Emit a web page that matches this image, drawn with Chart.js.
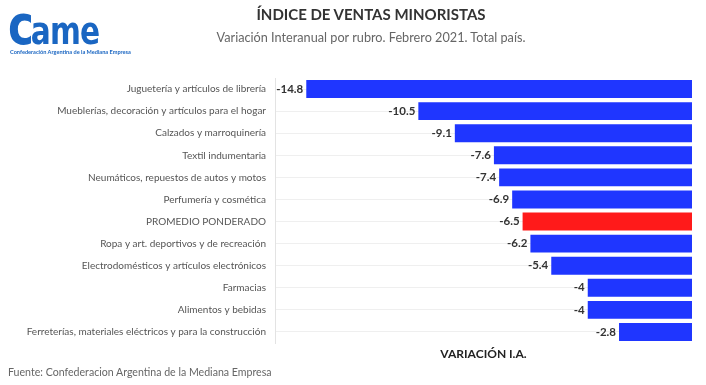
<!DOCTYPE html>
<html>
<head>
<meta charset="utf-8">
<script src="https://cdn.jsdelivr.net/npm/chart.js@4"></script>
<style>
  body { margin: 0; background: #fff; font-family: Lato, sans-serif; }
  #wrap { position: relative; width: 706px; height: 385px; overflow: hidden; }
  #chart { position: absolute; left: 0; top: 0; }
  .title { position: absolute; left: 0; width: 742px; text-align: center; font-weight: bold; font-size: 15px; color: #333; top: 5px; }
  .subtitle { position: absolute; left: 0; width: 742px; text-align: center; font-size: 12.7px; color: #666; top: 29px; }
  .footer { position: absolute; left: 8px; top: 366px; font-size: 10.6px; color: #666; }
  .logo { position: absolute; left: 8px; top: 0px; color: #1a66c2; }
  .logo .big { font-weight: bold; line-height: 50px; font-family: "DejaVu Sans", sans-serif; transform: scaleX(0.78); transform-origin: left; white-space: nowrap; }
  .logo .big .c { font-size: 56px; letter-spacing: -4px; }
  .logo .big .ame { font-size: 38px; letter-spacing: -1px; }
  .logo .small { position: absolute; top: 48px; left: 2px; font-size: 5.6px; font-weight: bold; white-space: nowrap; }
</style>
</head>
<body>
<div id="wrap">
  <canvas id="chart" width="706" height="385"></canvas>
  <div class="logo"><div class="big"><span class="c">c</span><span class="ame">ame</span></div><div class="small">Confederación Argentina de la Mediana Empresa</div></div>
  <div class="title">ÍNDICE DE VENTAS MINORISTAS</div>
  <div class="subtitle">Variación Interanual por rubro. Febrero 2021. Total país.</div>
  <div class="footer">Fuente: Confederacion Argentina de la Mediana Empresa</div>
</div>
<script>
'use strict';

// rubros, de mayor caida a menor
var rubros = [
  'Juguetería y artículos de librería',
  'Mueblerías, decoración y artículos para el hogar',
  'Calzados y marroquinería',
  'Textil indumentaria',
  'Neumáticos, repuestos de autos y motos',
  'Perfumería y cosmética',
  'PROMEDIO PONDERADO',
  'Ropa y art. deportivos y de recreación',
  'Electrodomésticos y artículos electrónicos',
  'Farmacias',
  'Alimentos y bebidas',
  'Ferreterías, materiales eléctricos y para la construcción'
];
var variacion = [-14.8, -10.5, -9.1, -7.6, -7.4, -6.9, -6.5, -6.2, -5.4, -4, -4, -2.8];

var azul = '#1f36ff';
var rojo = '#ff1a1a';
var colores = rubros.map(function(r) {
  return r === 'PROMEDIO PONDERADO' ? rojo : azul;
});

// etiquetas de valor a la izquierda de cada barra
var valueLabels = {
  id: 'valueLabels',
  afterDatasetsDraw: function(chart) {
    var ctx = chart.ctx;
    var meta = chart.getDatasetMeta(0);
    ctx.save();
    ctx.font = 'bold 11.5px Lato, sans-serif';
    ctx.fillStyle = '#333';
    ctx.textAlign = 'right';
    ctx.textBaseline = 'middle';
    meta.data.forEach(function(bar, i) {
      ctx.fillText(String(variacion[i]), bar.x - 3, bar.y);
    });
    ctx.restore();
  }
};

var ctx = document.getElementById('chart').getContext('2d');
var chart = new Chart(ctx, {
  type: 'bar',
  data: {
    labels: rubros,
    datasets: [{
      data: variacion,
      backgroundColor: colores,
      barPercentage: 0.9,
      categoryPercentage: 0.9
    }]
  },
  options: {
    indexAxis: 'y',
    responsive: false,
    animation: false,
    layout: { padding: { top: 78, right: 14, bottom: 20, left: 0 } },
    plugins: {
      legend: { display: false },
      tooltip: { enabled: false }
    },
    scales: {
      x: {
        min: -16,
        max: 0,
        afterFit: function(scale) { scale.height = 22; },
        ticks: { display: false },
        grid: { display: false },
        border: { display: false },
        title: {
          display: true,
          text: 'VARIACIÓN I.A.',
          color: '#222',
          font: { family: 'Lato', weight: 'bold', size: 12 },
          padding: { top: 4, bottom: 4 }
        }
      },
      y: {
        afterFit: function(scale) { scale.width = 275; },
        ticks: { color: '#555', font: { family: 'Lato', size: 10 }, padding: 9 },
        grid: { color: '#efefef', offset: false, drawTicks: false },
        border: { display: true, color: '#e3e3e3' }
      }
    }
  },
  plugins: [valueLabels]
});
</script>
</body>
</html>
